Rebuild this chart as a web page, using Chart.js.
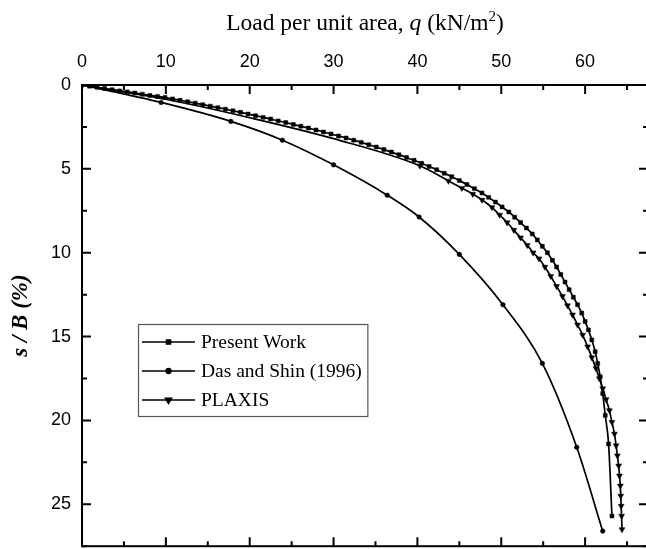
<!DOCTYPE html>
<html><head><meta charset="utf-8">
<script src="https://cdn.jsdelivr.net/npm/chart.js@4/dist/chart.umd.min.js"></script>
<style>
html,body{margin:0;padding:0;background:#fff;overflow:hidden}
#wrap{width:646px;height:549px;overflow:hidden;position:relative;background:#fff}
canvas{display:block}
</style></head>
<body><div id="wrap"><canvas id="c" width="650" height="568" style="width:650px;height:568px"></canvas></div>
<script>
// ---- data ----
const xTicks=[0,10,20,30,40,50,60];
const yTicks=[0,5,10,15,20,25];
const seriesNames=['Present Work','Das and Shin (1996)','PLAXIS'];

const pwX=[0,0.9,1.8,2.7,3.6,4.5,5.4,6.3,7.2,8.1,9.0,9.9,10.8,11.7,12.6,13.5,14.4,15.3,16.2,17.1,18.0,18.9,19.8,20.7,21.6,22.5,23.4,24.3,25.2,26.1,27.0,27.9,28.8,29.7,30.6,31.5,32.4,33.3,34.2,35.1,36.0,36.9,37.8,38.7,39.6,40.5,41.4,42.3,43.2,44.1,45.0,45.9,46.8,47.7,48.5,49.3,50.1,50.9,51.6,52.3,53.0,53.7,54.3,54.9,55.5,56.1,56.6,57.1,57.6,58.1,58.6,59.1,59.6,60.0,60.4,60.8,61.2,61.5,61.8,62.1,62.4,62.8,63.2];
const pwY=[0,0.07,0.14,0.21,0.28,0.35,0.41,0.48,0.55,0.62,0.68,0.75,0.83,0.91,1.00,1.08,1.17,1.26,1.35,1.44,1.54,1.63,1.73,1.83,1.93,2.03,2.14,2.24,2.35,2.46,2.57,2.68,2.80,2.92,3.04,3.16,3.29,3.42,3.56,3.70,3.85,4.00,4.16,4.32,4.49,4.67,4.86,5.05,5.26,5.47,5.70,5.93,6.18,6.44,6.70,6.98,7.27,7.57,7.88,8.20,8.53,8.88,9.24,9.62,10.00,10.45,10.85,11.3,11.75,12.2,12.65,13.1,13.6,14.1,14.6,15.2,15.9,16.6,17.4,18.4,19.7,21.4,25.7];

const dsX=[0,9.43,17.75,23.9,30.0,36.4,40.2,45.0,50.2,54.9,59.0,62.1];
const dsY=[0,1.04,2.17,3.29,4.76,6.57,7.87,10.1,13.1,16.6,21.6,26.6];

const plX=[0,10,20,30,40.3,43.7,45.3,46.6,47.7,48.9,49.8,50.7,51.5,52.3,53.1,53.8,54.5,55.2,55.9,56.6,57.3,57.9,58.5,59.1,59.7,60.3,60.8,61.3,61.7,62.1,62.5,62.9,63.2,63.5,63.7,63.85,64.0,64.1,64.2,64.25,64.3,64.35,64.4];
const plY=[0,0.85,1.95,3.2,4.82,5.72,6.15,6.5,6.85,7.3,7.75,8.2,8.65,9.1,9.55,10.0,10.35,10.85,11.4,12.0,12.6,13.15,13.7,14.3,14.9,15.6,16.25,16.9,17.5,18.1,18.75,19.4,20.1,20.8,21.5,22.1,22.7,23.3,23.9,24.5,25.1,25.7,26.5];

const pts=(xs,ys)=>xs.map((x,i)=>({x:x,y:ys[i]}));

const common={borderColor:'#000',backgroundColor:'#000',borderWidth:1.7,showLine:true,
  cubicInterpolationMode:'monotone',pointBorderWidth:0.5,pointBorderColor:'#000',pointBackgroundColor:'#000'};

const datasets=[
  Object.assign({label:seriesNames[0],data:pts(pwX,pwY),pointStyle:'rect',pointRadius:2.8},common),
  Object.assign({label:seriesNames[1],data:pts(dsX,dsY),pointStyle:'circle',pointRadius:2.3},common),
  Object.assign({label:seriesNames[2],data:pts(plX,plY),pointStyle:'triangle',pointRotation:180,
     pointRadius:(c)=>(c.dataIndex>=1&&c.dataIndex<=3)?0:3.4},common)
];

const frame={
  id:'frame',
  afterDraw(chart){
    const ctx=chart.ctx, a=chart.chartArea, xs=chart.scales.x, ys=chart.scales.y;
    ctx.save();
    ctx.strokeStyle='#000'; ctx.lineWidth=2;
    ctx.strokeRect(a.left,a.top,a.right-a.left,a.bottom-a.top);
    ctx.beginPath();
    for(let v=0; v<=xs.max+1e-9; v+=5){
      const px=xs.getPixelForValue(v); const L=(v%10===0)?9:5;
      ctx.moveTo(px,a.top); ctx.lineTo(px,a.top+L);
      ctx.moveTo(px,a.bottom); ctx.lineTo(px,a.bottom-L);
    }
    for(let v=0; v<=ys.max+1e-9; v+=2.5){
      const py=ys.getPixelForValue(v); const L=(v%5===0)?9:5;
      ctx.moveTo(a.left,py); ctx.lineTo(a.left+L,py);
      ctx.moveTo(a.right,py); ctx.lineTo(a.right-L,py);
    }
    ctx.stroke();

    const segs=[
      {t:'Load per unit area, ',f:'23.5px "Liberation Serif"',dy:0},
      {t:'q',f:'italic 23.5px "Liberation Serif"',dy:0},
      {t:' (kN/m',f:'23.5px "Liberation Serif"',dy:0},
      {t:'2',f:'15px "Liberation Serif"',dy:-9},
      {t:')',f:'23.5px "Liberation Serif"',dy:0}
    ];
    let tw=0; segs.forEach(s=>{ctx.font=s.f; s.w=ctx.measureText(s.t).width; tw+=s.w;});
    let cx=(a.left+a.right)/2 - tw/2;
    ctx.fillStyle='#000'; ctx.textBaseline='alphabetic'; ctx.textAlign='left';
    segs.forEach(s=>{ctx.font=s.f; ctx.fillText(s.t,cx,30+s.dy); cx+=s.w;});

    ctx.save();
    ctx.translate(27,(a.top+a.bottom)/2);
    ctx.rotate(-Math.PI/2);
    ctx.font='italic bold 23px "Liberation Serif"';
    ctx.textAlign='center'; ctx.textBaseline='alphabetic';
    ctx.fillText('s / B (%)',0,0);
    ctx.restore();

    const lx=138.5, ly=324.5, rows=[342,371,400];
    ctx.font='19.5px "Liberation Serif"';
    let mw=0; chart.data.datasets.forEach(d=>{mw=Math.max(mw,ctx.measureText(d.label).width);});
    const tx=201, lw=tx+mw+6-lx;
    ctx.fillStyle='#fff'; ctx.fillRect(lx,ly,lw,92);
    ctx.strokeStyle='#555'; ctx.lineWidth=1.2; ctx.strokeRect(lx,ly,lw,92);
    chart.data.datasets.forEach((d,i)=>{
      const y=rows[i];
      ctx.strokeStyle='#000'; ctx.lineWidth=1.7;
      ctx.beginPath(); ctx.moveTo(142,y); ctx.lineTo(195,y); ctx.stroke();
      ctx.fillStyle='#000';
      const r=(typeof d.pointRadius==='function')?3.4:d.pointRadius;
      Chart.helpers.drawPoint(ctx,{pointStyle:d.pointStyle,radius:r,rotation:d.pointRotation||0,borderWidth:0.5},168.5,y);
      ctx.fillStyle='#000'; ctx.textAlign='left'; ctx.textBaseline='middle';
      ctx.font='19.5px "Liberation Serif"';
      ctx.fillText(d.label,tx,y+1);
    });
    ctx.restore();
  }
};

new Chart(document.getElementById('c'),{
  type:'scatter',
  data:{datasets:datasets},
  options:{
    responsive:false, animation:false, devicePixelRatio:1,
    layout:{autoPadding:false,padding:{top:0,right:2,bottom:3,left:0}},
    plugins:{legend:{display:false},tooltip:{enabled:false}},
    scales:{
      x:{type:'linear',position:'top',min:0,max:67.5,
        afterBuildTicks:(s)=>{s.ticks=xTicks.map(v=>({value:v}));},
        afterFit:(s)=>{s.height=85;},
        ticks:{color:'#000',font:{family:'Liberation Sans',size:18},padding:12,maxRotation:0,autoSkip:false},
        grid:{display:false,drawTicks:false},border:{display:false}},
      y:{type:'linear',reverse:true,min:0,max:27.5,
        afterBuildTicks:(s)=>{s.ticks=yTicks.map(v=>({value:v}));},
        afterFit:(s)=>{s.width=82;},
        ticks:{color:'#000',font:{family:'Liberation Sans',size:18},padding:11,autoSkip:false},
        grid:{display:false,drawTicks:false},border:{display:false}}
    }
  },
  plugins:[frame]
});
</script>
</body></html>
